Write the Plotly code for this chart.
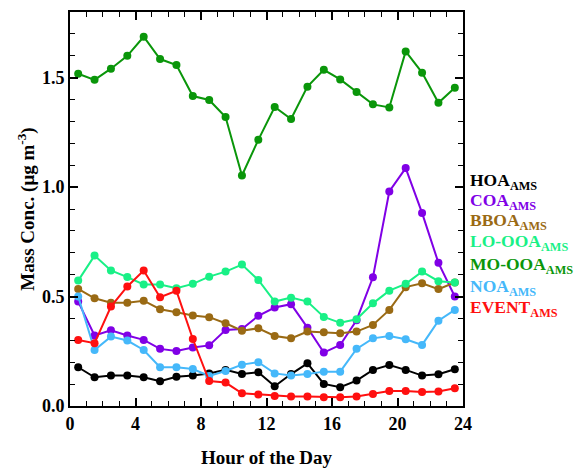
import plotly.graph_objects as go

hours = [h + 0.5 for h in range(24)]

hoa = [0.177, 0.131, 0.139, 0.139, 0.131, 0.113, 0.134, 0.139, 0.149, 0.165, 0.146, 0.154,
       0.090, 0.146, 0.195, 0.101, 0.086, 0.116, 0.165, 0.187, 0.165, 0.139, 0.145, 0.168]
coa = [0.477, 0.322, 0.346, 0.322, 0.302, 0.261, 0.251, 0.267, 0.277, 0.347, 0.352, 0.412,
       0.450, 0.465, 0.358, 0.244, 0.279, 0.392, 0.588, 0.980, 1.087, 0.882, 0.654, 0.500]
bboa = [0.535, 0.492, 0.472, 0.472, 0.481, 0.442, 0.428, 0.413, 0.406, 0.378, 0.344, 0.355,
        0.320, 0.309, 0.340, 0.337, 0.332, 0.340, 0.370, 0.439, 0.543, 0.561, 0.534, 0.564]
lo_ooa = [0.573, 0.687, 0.619, 0.589, 0.555, 0.555, 0.538, 0.558, 0.591, 0.614, 0.646, 0.576,
          0.477, 0.495, 0.477, 0.407, 0.380, 0.396, 0.469, 0.527, 0.558, 0.614, 0.570, 0.564]
mo_ooa = [1.518, 1.490, 1.541, 1.600, 1.687, 1.585, 1.558, 1.416, 1.398, 1.320, 1.053, 1.216,
          1.366, 1.311, 1.459, 1.536, 1.492, 1.434, 1.378, 1.364, 1.620, 1.523, 1.385, 1.454]
noa = [0.500, 0.256, 0.317, 0.299, 0.256, 0.177, 0.177, 0.169, 0.137, 0.160, 0.189, 0.200,
       0.149, 0.139, 0.146, 0.157, 0.157, 0.261, 0.309, 0.320, 0.305, 0.279, 0.390, 0.439]
event = [0.302, 0.287, 0.454, 0.546, 0.619, 0.497, 0.526, 0.306, 0.114, 0.107, 0.058, 0.053,
         0.046, 0.043, 0.043, 0.040, 0.040, 0.043, 0.055, 0.069, 0.069, 0.064, 0.066, 0.081]

names = ["HOA", "COA", "BBOA", "LO-OOA", "MO-OOA", "NOA", "EVENT"]
series = [hoa, coa, bboa, lo_ooa, mo_ooa, noa, event]
colors = ["#000000", "#8000E6", "#9A6A14", "#19F086", "#0A960A", "#45B8FA", "#FF1010"]

FONT = "Liberation Serif"

fig = go.Figure()
for name, vals, col in zip(names, series, colors):
    fig.add_trace(go.Scatter(
        x=hours, y=vals, mode="lines+markers", name=name,
        line=dict(color=col, width=2),
        marker=dict(color=col, size=8),
        showlegend=False,
    ))

# Coloured label list to the right of the plot
label_y = [181, 201, 222, 243, 265, 287, 308]
for name, col, py in zip(names, colors, label_y):
    fig.add_annotation(
        x=1.013, xref="paper", xanchor="left",
        y=(406 - py) / 394, yref="paper", yanchor="middle",
        text=f"<b>{name}<sub>AMS</sub></b>", showarrow=False,
        font=dict(family=FONT, size=17.5, color=col),
    )

axis_common = dict(
    showline=True, linecolor="black", linewidth=2, mirror="ticks",
    ticks="inside", ticklen=8, tickwidth=1.5, tickcolor="black",
    showgrid=False, zeroline=False, automargin=False,
    tickfont=dict(family=FONT, size=18, color="black"),
)

fig.update_xaxes(
    range=[0, 24], tick0=0, dtick=4,
    minor=dict(ticks="inside", ticklen=5, dtick=1, tickcolor="black", tickwidth=1.2),
    title=dict(text="<b>Hour of the Day</b>", font=dict(family=FONT, size=19, color="black"),
               standoff=18),
    tickprefix="<b>", ticksuffix="</b>",
    **axis_common,
)
fig.update_yaxes(
    range=[0, 1.8], tick0=0, dtick=0.5, tickformat=".1f",
    minor=dict(ticks="inside", ticklen=5, dtick=0.1, tickcolor="black", tickwidth=1.2),
    title=dict(text="<b>Mass Conc. (μg m<sup>-3</sup>)</b>",
               font=dict(family=FONT, size=19, color="black"), standoff=2),
    tickprefix="<b>", ticksuffix="</b>",
    **axis_common,
)

fig.update_layout(
    width=576, height=470,
    margin=dict(l=70, r=113, t=12, b=64),
    plot_bgcolor="white", paper_bgcolor="white",
)

fig.write_html("out.html")
